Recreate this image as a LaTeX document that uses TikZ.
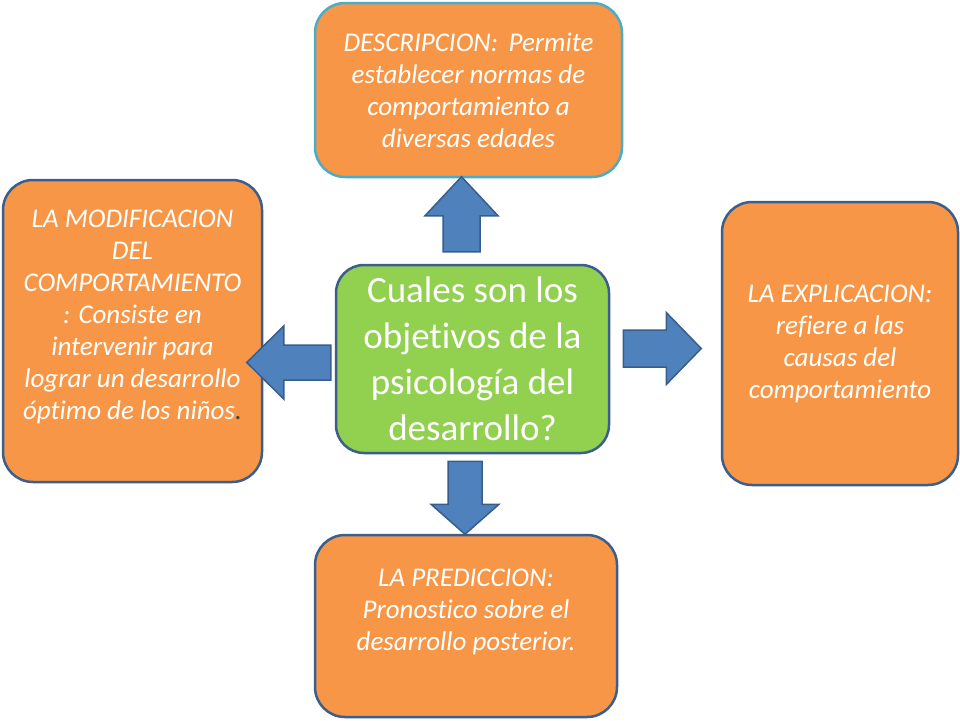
\documentclass[tikz,border=0pt]{standalone}
\usepackage{fontspec}
\setmainfont{Carlito}[Ligatures=NoCommon]
\usetikzlibrary{calc}
\definecolor{boxorange}{HTML}{F79646}
\definecolor{boxgreen}{HTML}{92D050}
\definecolor{boxedge}{HTML}{3B5E8C}
\definecolor{tealedge}{HTML}{4BACC6}
\definecolor{arrowblue}{HTML}{4F81BD}
\definecolor{arrowedge}{HTML}{385D8A}

\begin{document}
\begin{tikzpicture}[x=1pt, y=-1pt,
    goal/.style={rectangle, rounded corners=30pt, fill=boxorange, draw=boxedge,
        line width=2.5pt, text=white, align=center, inner sep=0pt,
        font=\fontsize{27}{32}\selectfont\itshape},
    question/.style={goal, fill=boxgreen, rounded corners=28pt,
        font=\fontsize{37}{46}\selectfont},
    blockarrow/.style={fill=arrowblue, draw=arrowedge, line width=1.5pt, line join=miter}]
    \useasboundingbox (0,0) rectangle (960,720);
    % central question
    \node[question, minimum width=273pt, minimum height=188pt] (center) at (472.5,359)
        {Cuales son los\\objetivos de la\\psicología del\\desarrollo?};
    % the four goals
    \node[goal, draw=tealedge, minimum width=307pt, minimum height=174pt] (desc) at (468.5,90)
        {DESCRIPCION:\, Permite\\establecer normas de\\comportamiento a\\diversas edades};
    \node[goal, minimum width=259pt, minimum height=302pt] (modif) at (132.5,331)
        {LA MODIFICACION\\DEL\\COMPORTAMIENTO\\: Consiste en\\intervenir para\\lograr un desarrollo\\óptimo de los niños{\color{darkgray}.}\\ \mbox{}};
    \node[goal, minimum width=236pt, minimum height=283pt] (expl) at (840,343.5)
        {LA EXPLICACION:\\refiere a las\\causas del\\comportamiento};
    \node[goal, minimum width=302pt, minimum height=182pt] (pred) at (466,626)
        {LA PREDICCION:\\Pronostico sobre el\\desarrollo posterior.\\ \mbox{}};
    % block arrows
    \draw[blockarrow, shift={($(center.north)+(-11,-12)$)}]
        (-18.5,0) -- (-18.5,-36) -- (-36.5,-36) -- (0,-75) -- (36.5,-36) -- (18.5,-36) -- (18.5,0) -- cycle;
    \draw[blockarrow, shift={($(center.south)+(-7.5,7)$)}]
        (-17,0) -- (-17,43) -- (-34,43) -- (0,73) -- (34,43) -- (17,43) -- (17,0) -- cycle;
    \draw[blockarrow, shift={($(center.west)+(-4,3.5)$)}]
        (0,-17.5) -- (-47,-17.5) -- (-47,-36.5) -- (-84,0) -- (-47,36.5) -- (-47,17.5) -- (0,17.5) -- cycle;
    \draw[blockarrow, shift={($(center.east)+(13,-10.5)$)}]
        (0,-18.5) -- (43,-18.5) -- (43,-36) -- (78,0) -- (43,36) -- (43,18.5) -- (0,18.5) -- cycle;
\end{tikzpicture}
\end{document}
